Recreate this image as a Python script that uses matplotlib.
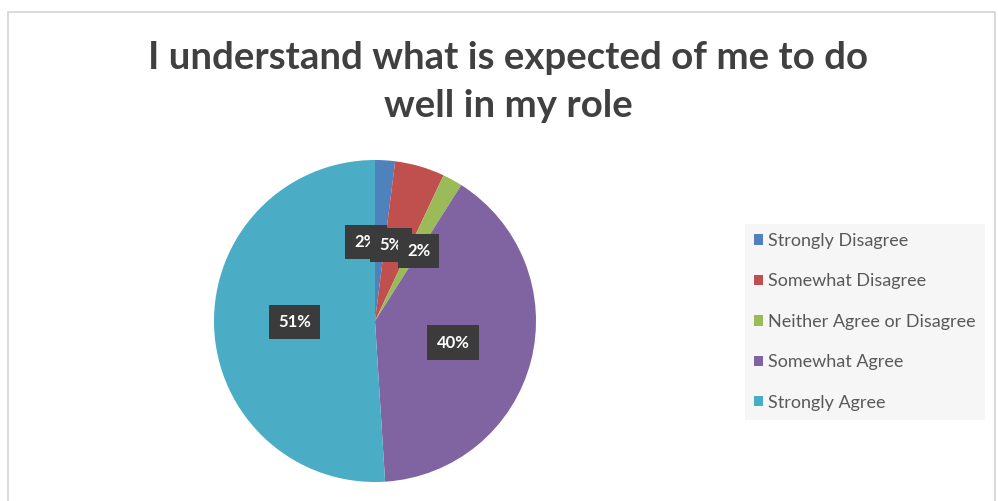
import numpy as np
import matplotlib
matplotlib.use("Agg")
import matplotlib.pyplot as plt
from matplotlib.patches import Rectangle

categories = ["Strongly Disagree", "Somewhat Disagree", "Neither Agree or Disagree",
              "Somewhat Agree", "Strongly Agree"]
shares = [2, 5, 2, 40, 51]
colors = ["#4F81BD", "#C0504D", "#9BBB59", "#8064A2", "#4BACC6"]
title = "I understand what is expected of me to do\nwell in my role"

plt.rcParams["font.family"] = ["Lato", "DejaVu Sans"]

W, H = 998, 501
fig = plt.figure(figsize=(W / 100, H / 100), dpi=100)
fig.patch.set_facecolor("white")

# chart area frame
fig.add_artist(Rectangle((8 / W, -0.1), (995 - 8) / W, (H - 12) / H + 0.1,
                         transform=fig.transFigure, facecolor="white",
                         edgecolor="#d4d4d4", linewidth=1.2, zorder=0))

fig.text(508 / W, 1 - 82 / H, title, ha="center", va="center", fontsize=27.6,
         fontweight="bold", color="#404040", linespacing=1.5)

# pie centre (375, 321) px, radius 161 px
cx, cy, r = 375, 321, 161
ax = fig.add_axes([(cx - r) / W, (H - cy - r) / H, 2 * r / W, 2 * r / H])
wedges, texts, autotexts = ax.pie(
    shares, colors=colors, startangle=90, counterclock=False,
    autopct="%d%%", pctdistance=0.5, radius=1.0,
    wedgeprops=dict(linewidth=0),
    textprops=dict(color="white", fontsize=12, fontweight="bold"))
ax.set_xlim(-1, 1)
ax.set_ylim(-1, 1)
ax.set_aspect("auto")

# nudge the crowded small labels, in pie units
nudges = [(-0.087, -0.01), (-0.04, -0.01), (0.03, -0.005), (0, -0.01), (0, 0.01)]
for t, (dx, dy) in zip(autotexts, nudges):
    x, y = t.get_position()
    t.set_position((x + dx, y + dy))
    t.set_bbox(dict(boxstyle="square,pad=0.55", facecolor="#3b3b3b",
                    edgecolor="none"))

leg = ax.legend(wedges, categories, loc="upper left",
                bbox_to_anchor=(745 / W, 1 - 224 / H),
                bbox_transform=fig.transFigure, frameon=True, fancybox=False,
                facecolor="#f6f6f6", edgecolor="none", framealpha=1,
                fontsize=13, handlelength=0.5, handleheight=0.5,
                handletextpad=0.3, labelspacing=1.35, borderpad=0.5,
                borderaxespad=0)
for txt in leg.get_texts():
    txt.set_color("#595959")

fig.savefig("out.png", dpi=100)
